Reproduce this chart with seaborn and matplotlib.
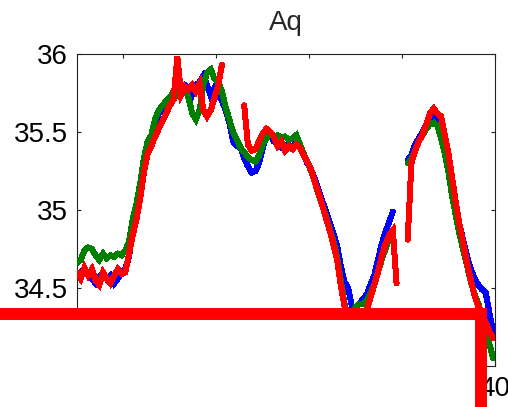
import numpy as np
import pandas as pd
import matplotlib
matplotlib.use("Agg")
import matplotlib.pyplot as plt
from matplotlib.patches import Rectangle
import seaborn as sns

nan = np.nan

# sample positions shared by the three records
t = np.round(17.5 + 0.2 * np.arange(113), 1)

blue = [34.58, 34.60, 34.62, 34.58, 34.56, 34.53, 34.57, 34.60, 34.56, 34.58,
        34.53, 34.56, 34.60, 34.62, 34.70, 34.86, 34.98, 35.12, 35.28, 35.40,
        35.46, 35.55, 35.62, 35.65, 35.68, 35.70, 35.74, 35.76, 35.78, 35.80,
        35.78, 35.74, 35.80, 35.82, 35.86, 35.80, 35.73, 35.78, 35.74, 35.70,
        35.64, 35.56, 35.44, 35.41, 35.40, 35.33, 35.28, 35.24, 35.25, 35.30,
        35.40, 35.47, 35.48, 35.44, 35.42, 35.40, 35.41, 35.42, 35.40, 35.43,
        35.40, 35.35, 35.30, 35.26, 35.20, 35.13, 35.06, 34.99, 34.92, 34.85,
        34.77, 34.64, 34.54, 34.50, 34.38, 34.38, 34.40, 34.43, 34.46, 34.52,
        34.58, 34.68, 34.78, 34.86, 34.92, 34.99, nan, nan, nan, 35.32,
        35.35, 35.42, 35.46, 35.50, 35.55, 35.58, 35.60, 35.59, 35.52, 35.44,
        35.32, 35.18, 35.04, 34.90, 34.80, 34.70, 34.62, 34.56, 34.52, 34.49,
        34.47, 34.34, 34.22]

green = [34.66, 34.68, 34.74, 34.76, 34.75, 34.71, 34.68, 34.72, 34.69, 34.71,
         34.70, 34.72, 34.71, 34.74, 34.80, 34.94, 35.04, 35.17, 35.33, 35.44,
         35.48, 35.58, 35.64, 35.67, 35.70, 35.72, 35.76, 35.74, 35.80, 35.79,
         35.72, 35.62, 35.58, 35.64, 35.80, 35.88, 35.90, 35.84, 35.82, 35.76,
         35.66, 35.58, 35.50, 35.45, 35.40, 35.37, 35.34, 35.32, 35.31, 35.35,
         35.42, 35.46, 35.49, 35.47, 35.48, 35.46, 35.47, 35.45, 35.46, 35.48,
         35.42, 35.36, 35.31, 35.25, 35.18, 35.10, 35.03, 34.96, 34.88, 34.80,
         34.70, 34.55, 34.40, 34.30, 34.30, 34.38, 34.40, 34.40, 34.42, 34.47,
         34.52, 34.60, 34.68, 34.75, 34.82, 34.86, nan, nan, nan, 35.30,
         35.33, 35.38, 35.44, 35.48, 35.52, 35.55, 35.56, 35.54, 35.46, 35.36,
         35.24, 35.08, 34.96, 34.84, 34.74, 34.64, 34.54, 34.46, 34.40, 34.32,
         34.22, 34.14, 34.05]

red = [34.60, 34.56, 34.63, 34.58, 34.62, 34.55, 34.52, 34.60, 34.56, 34.53,
       34.58, 34.62, 34.59, 34.60, 34.72, 34.84, 34.94, 35.07, 35.24, 35.36,
       35.41, 35.47, 35.52, 35.57, 35.62, 35.67, 35.71, 35.98, 35.74, 35.79,
       35.77, 35.80, 35.76, 35.81, 35.64, 35.60, 35.64, 35.72, 35.80, 35.93,
       nan, nan, nan, nan, nan, 35.67, 35.42, 35.38, 35.39, 35.44,
       35.49, 35.52, 35.50, 35.47, 35.41, 35.44, 35.38, 35.41, 35.39, 35.42,
       35.40, 35.35, 35.31, 35.26, 35.18, 35.11, 35.03, 34.95, 34.87, 34.78,
       34.68, 34.52, 34.38, 34.27, 34.22, 34.22, 34.26, 34.30, 34.36, 34.44,
       34.52, 34.60, 34.70, 34.78, 34.84, 34.87, 34.53, nan, nan, 34.81,
       35.30, 35.38, 35.44, 35.48, 35.55, 35.62, 35.65, 35.62, 35.60, 35.48,
       35.36, 35.20, 35.04, 34.90, 34.78, 34.66, 34.55, 34.45, 34.38, 34.32,
       34.28, 34.22, 34.18]

series_names = ["blue", "green", "red"]
series_colors = {"blue": "#0000ff", "green": "#008000", "red": "#ff0000"}

y_ticks = [34.5, 35.0, 35.5, 36.0]
y_tick_labels = ["34.5", "35", "35.5", "36"]
x_ticks = [20, 25, 30, 35, 40]
x_tick_labels = ["", "", "", "", "40"]

# red frame drawn over the lower part of the panel
frame_x = [12.0, 39.24, 39.24]
frame_y = [34.333, 34.333, 33.4]

frames = []
for name, vals in zip(series_names, [blue, green, red]):
    d = pd.DataFrame({"t": t, "value": vals, "series": name})
    d["seg"] = d["value"].isna().cumsum()
    frames.append(d.dropna())
df = pd.concat(frames, ignore_index=True)

sns.set_style("white")
plt.rcParams["font.family"] = ["Liberation Sans", "DejaVu Sans"]

fig = plt.figure(figsize=(5.08, 4.07), dpi=100)
ax = fig.add_axes([77 / 508, 1 - 366 / 407, (495 - 77) / 508, (366 - 54) / 407])

for name in series_names:
    sns.lineplot(data=df[df["series"] == name], x="t", y="value", units="seg",
                 estimator=None, color=series_colors[name], lw=3.6, ax=ax,
                 legend=False, zorder=3, antialiased=False,
                 solid_joinstyle="miter")

ax.set_xlim(17.5, 40)
ax.set_ylim(34, 36)
ax.set_xlabel("")
ax.set_ylabel("")
ax.set_yticks(y_ticks)
ax.set_yticklabels(y_tick_labels)
ax.set_xticks(x_ticks)
ax.set_xticklabels(x_tick_labels)
ax.tick_params(axis="both", direction="in", length=3, width=0.8, colors="#222222",
               labelcolor="black", labelsize=20, top=True, right=True,
               bottom=True, left=True)
ax.tick_params(axis="y", pad=6.5)
ax.tick_params(axis="x", pad=7)
for s in ax.spines.values():
    s.set_visible(True)
    s.set_color("#222222")
    s.set_linewidth(0.8)

ax.set_title("Aq", fontsize=20, pad=17)

# white block and red frame over the lower left of the panel
ax.add_patch(Rectangle((frame_x[0], frame_y[2]), frame_x[1] - frame_x[0],
                       frame_y[0] - frame_y[2], facecolor="white",
                       edgecolor="none", zorder=4, clip_on=False))
ax.plot(frame_x, frame_y, color="#ff0000", lw=8.6, solid_joinstyle="miter",
        solid_capstyle="butt", zorder=5, clip_on=False)

fig.savefig("out.png", dpi=100)
